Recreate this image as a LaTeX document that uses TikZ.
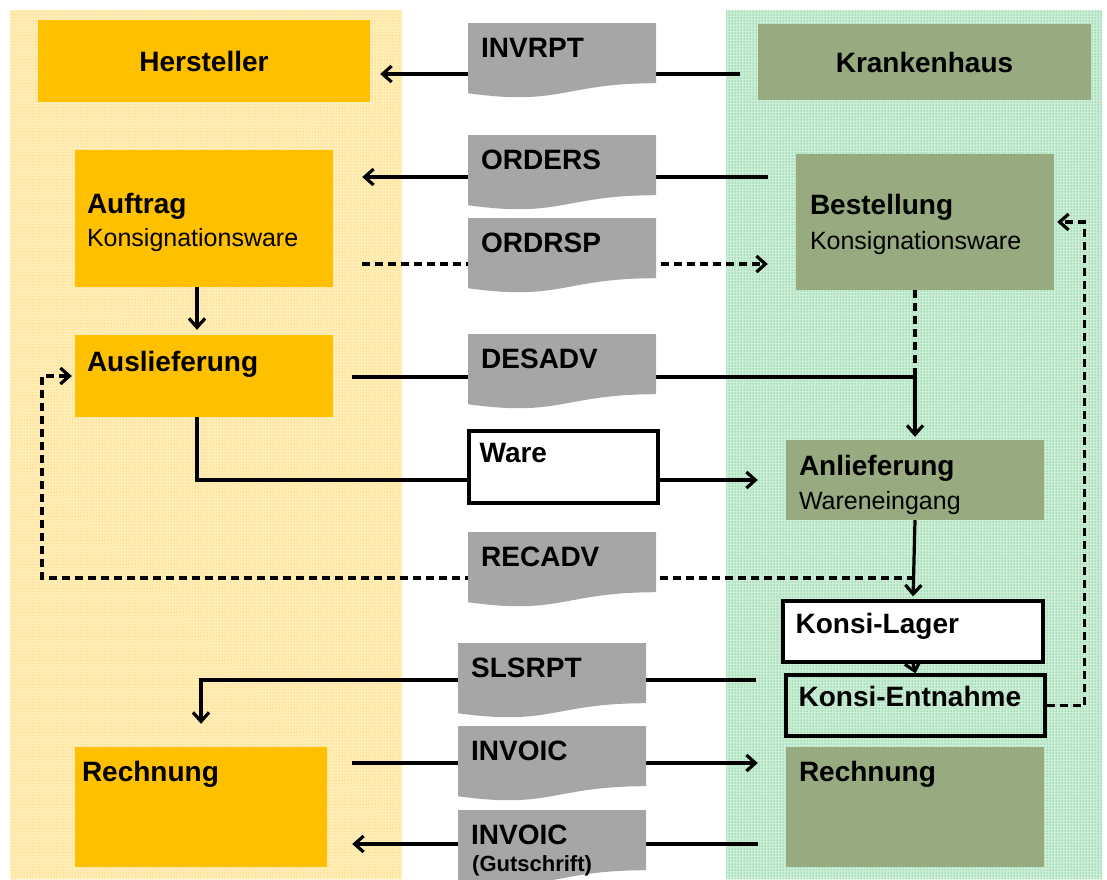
\documentclass[tikz,border=0pt]{standalone}
\usepackage{fontspec}
\setmainfont{Liberation Sans}
\usetikzlibrary{arrows.meta,calc,patterns,backgrounds}
\definecolor{herstorange}{RGB}{255,192,0}
\definecolor{hausgreen}{RGB}{152,170,128}
\definecolor{docgray}{RGB}{166,166,166}
\definecolor{leftbg}{RGB}{255,238,188}
\definecolor{rightbg}{RGB}{206,237,215}
\definecolor{dotgreen}{RGB}{0,176,80}
\newcommand{\boldtxt}{\fontsize{28}{32}\selectfont\bfseries}
\newcommand{\plaintxt}{\fontsize{25}{30}\selectfont}
\newcommand{\smalltxt}{\fontsize{22}{26}\selectfont\bfseries}
\tikzset{
    %Define standard arrow tip
    >={Straight Barb[length=9pt,width=16pt]},
    %Define style for boxes
    herst/.style={
           rectangle,
           fill=herstorange,
           inner sep=0pt,
           font=\boldtxt},
    haus/.style={
           rectangle,
           fill=hausgreen,
           inner sep=0pt,
           font=\boldtxt},
    framed/.style={
           rectangle,
           draw=black, line width=3.2pt,
           inner sep=0pt},
    doc/.style={
           anchor=north west,
           fill=white,
           minimum width=188pt,
           minimum height=75pt,
           inner sep=0pt,
           path picture={
             \fill[docgray] (path picture bounding box.north west)
               -- (path picture bounding box.north east)
               -- ($(path picture bounding box.north east)!0.8!(path picture bounding box.south east)$)
               .. controls ($(path picture bounding box.north)!0.8!(path picture bounding box.south)$)
               and ($(path picture bounding box.north)!1.107!(path picture bounding box.south)$)
               .. ($(path picture bounding box.north west)!0.934!(path picture bounding box.south west)$)
               -- cycle;}},
    txt/.style={anchor=base west, inner sep=0pt, font=\boldtxt},
    subtxt/.style={anchor=base west, inner sep=0pt, font=\plaintxt},
    % Define arrow style
    pil/.style={->, line width=3.2pt},
    dpil/.style={pil, dash pattern=on 8pt off 5pt}
}
\begin{document}
\begin{tikzpicture}[x=1pt,y=-1pt]
\useasboundingbox (0,0) rectangle (1107,879);
 %boxes
\node[herst, minimum width=332pt, minimum height=82pt] (hersteller) at (204,61) {Hersteller};
\node[haus, minimum width=333pt, minimum height=76pt] (krankenhaus) at (924.5,62) {Krankenhaus};
\node[herst, minimum width=258pt, minimum height=137pt] (auftrag) at (204,218.5) {};
\node[haus, minimum width=258pt, minimum height=136pt] (bestellung) at (925,222) {};
\node[herst, minimum width=258pt, minimum height=82pt] (auslieferung) at (204,376) {};
\node[framed, fill=white, minimum width=189pt, minimum height=72pt] (ware) at (563.5,467) {};
\node[haus, minimum width=258pt, minimum height=80pt] (anlieferung) at (915,480) {};
\node[framed, fill=white, minimum width=260pt, minimum height=61pt] (konsilager) at (913,631.5) {};
\node[framed, minimum width=259pt, minimum height=61pt] (konsientnahme) at (915.5,705.5) {};
\node[herst, minimum width=252pt, minimum height=120pt] (rechnungh) at (201,807) {};
\node[haus, minimum width=258pt, minimum height=120pt] (rechnungk) at (915,807) {};
 %messages
\node[doc] (invrpt) at (468,23) {};
\node[doc] (orders) at (468,135) {};
\node[doc] (ordrsp) at (468,218) {};
\node[doc] (desadv) at (468,334) {};
\node[doc] (recadv) at (468,532) {};
\node[doc] (slsrpt) at (458,643) {};
\node[doc] (invoic) at (458,726) {};
\node[doc] (gutschrift) at (458,810) {};
 %texts
\node[txt] (invrpttxt) at ([xshift=13pt,yshift=-34pt]invrpt.north west) {INVRPT};
\node[txt] (orderstxt) at ([xshift=13pt,yshift=-34pt]orders.north west) {ORDERS};
\node[txt] (ordrsptxt) at ([xshift=13pt,yshift=-34pt]ordrsp.north west) {ORDRSP};
\node[txt] (desadvtxt) at ([xshift=13pt,yshift=-34pt]desadv.north west) {DESADV};
\node[txt] (recadvtxt) at ([xshift=13pt,yshift=-34pt]recadv.north west) {RECADV};
\node[txt] (slsrpttxt) at ([xshift=13pt,yshift=-34pt]slsrpt.north west) {SLSRPT};
\node[txt] (invoictxt) at ([xshift=13pt,yshift=-34pt]invoic.north west) {INVOIC};
\node[txt] (gutschrifttxt) at ([xshift=13pt,yshift=-34pt]gutschrift.north west) {INVOIC};
\node[txt, font=\smalltxt] (gutschriftsub) at ([xshift=14pt,yshift=-61pt]gutschrift.north west) {(Gutschrift)};
\node[txt] (auftragtxt) at ([xshift=12pt,yshift=-64pt]auftrag.north west) {Auftrag};
\node[subtxt] (auftragsub) at ([xshift=12pt,yshift=-97pt]auftrag.north west) {Konsignationsware};
\node[txt] (bestellungtxt) at ([xshift=14pt,yshift=-61pt]bestellung.north west) {Bestellung};
\node[subtxt] (bestellungsub) at ([xshift=14pt,yshift=-96pt]bestellung.north west) {Konsignationsware};
\node[txt] (auslieferungtxt) at ([xshift=12pt,yshift=-37pt]auslieferung.north west) {Auslieferung};
\node[txt] (waretxt) at ([xshift=12pt,yshift=-33pt]ware.north west) {Ware};
\node[txt] (anlieferungtxt) at ([xshift=13pt,yshift=-36pt]anlieferung.north west) {Anlieferung};
\node[subtxt] (anlieferungsub) at ([xshift=13pt,yshift=-70pt]anlieferung.north west) {Wareneingang};
\node[txt] (konsilagertxt) at ([xshift=14pt,yshift=-34pt]konsilager.north west) {Konsi-Lager};
\node[txt] (konsientnahmetxt) at ([xshift=14pt,yshift=-33pt]konsientnahme.north west) {Konsi-Entnahme};
\node[txt] (rechnunghtxt) at ([xshift=7pt,yshift=-35pt]rechnungh.north west) {Rechnung};
\node[txt] (rechnungktxt) at ([xshift=13pt,yshift=-35pt]rechnungk.north west) {Rechnung};
 %line heights
\coordinate (invrptline) at (0,74);
\coordinate (ordersline) at (0,177);
\coordinate (ordrspline) at (0,264);
\coordinate (desadvline) at (0,377);
\coordinate (recadvcorner) at (42,578);
\coordinate (slsrptline) at (0,680);
\coordinate (invoicline) at (0,763);
\coordinate (gutschriftline) at (0,844);
\begin{scope}[on background layer]
 %areas
\fill[leftbg] (10,10) rectangle (402,879);
\fill[pattern=dots, pattern color=herstorange] (10,10) rectangle (402,879);
\fill[rightbg] (726,10) rectangle (1102,879);
\fill[pattern=dots, pattern color=dotgreen] (726,10) rectangle (1102,879);
 %edges
\draw[pil, shorten <=18pt, shorten >=10pt] (krankenhaus.west |- invrptline) -- (hersteller.east |- invrptline);
\draw[pil, shorten <=28pt, shorten >=29pt] (bestellung.west |- ordersline) -- (auftrag.east |- ordersline);
\draw[dpil, shorten <=29pt, shorten >=28pt] (auftrag.east |- ordrspline) -- (bestellung.west |- ordrspline);
\draw[pil, shorten >=5pt] ([xshift=-7pt]auftrag.south) -- ([xshift=-7pt]auslieferung.north);
\draw[pil, shorten <=19pt, shorten >=3pt] (auslieferung.east |- desadvline) -| (anlieferung.north);
\draw[dpil, -] (anlieferung.north |- bestellung.south) -- (anlieferung.north |- desadvline);
\draw[pil, shorten >=28pt] ([xshift=-7pt]auslieferung.south) |- (anlieferung.west);
\draw[pil, shorten >=3pt] (anlieferung.south) -- (konsilager.north);
\draw[dpil, shorten >=3pt] (anlieferung.south |- recadvcorner) -- (recadvcorner) |- (auslieferung.west);
\draw[pil] (konsilager.south) -- (konsientnahme.north);
\draw[dpil, shorten >=3pt] (konsientnahme.east) -- ++(38,0) |- (bestellung.east);
\draw[pil, shorten <=28pt, shorten >=23pt] (konsientnahme.west |- slsrptline) -| (rechnungh.north);
\draw[pil, shorten <=25pt, shorten >=28pt] (rechnungh.east |- invoicline) -- (rechnungk.west |- invoicline);
\draw[pil, shorten <=28pt, shorten >=25pt] (rechnungk.west |- gutschriftline) -- (rechnungh.east |- gutschriftline);
\end{scope}
\end{tikzpicture}
\end{document}
